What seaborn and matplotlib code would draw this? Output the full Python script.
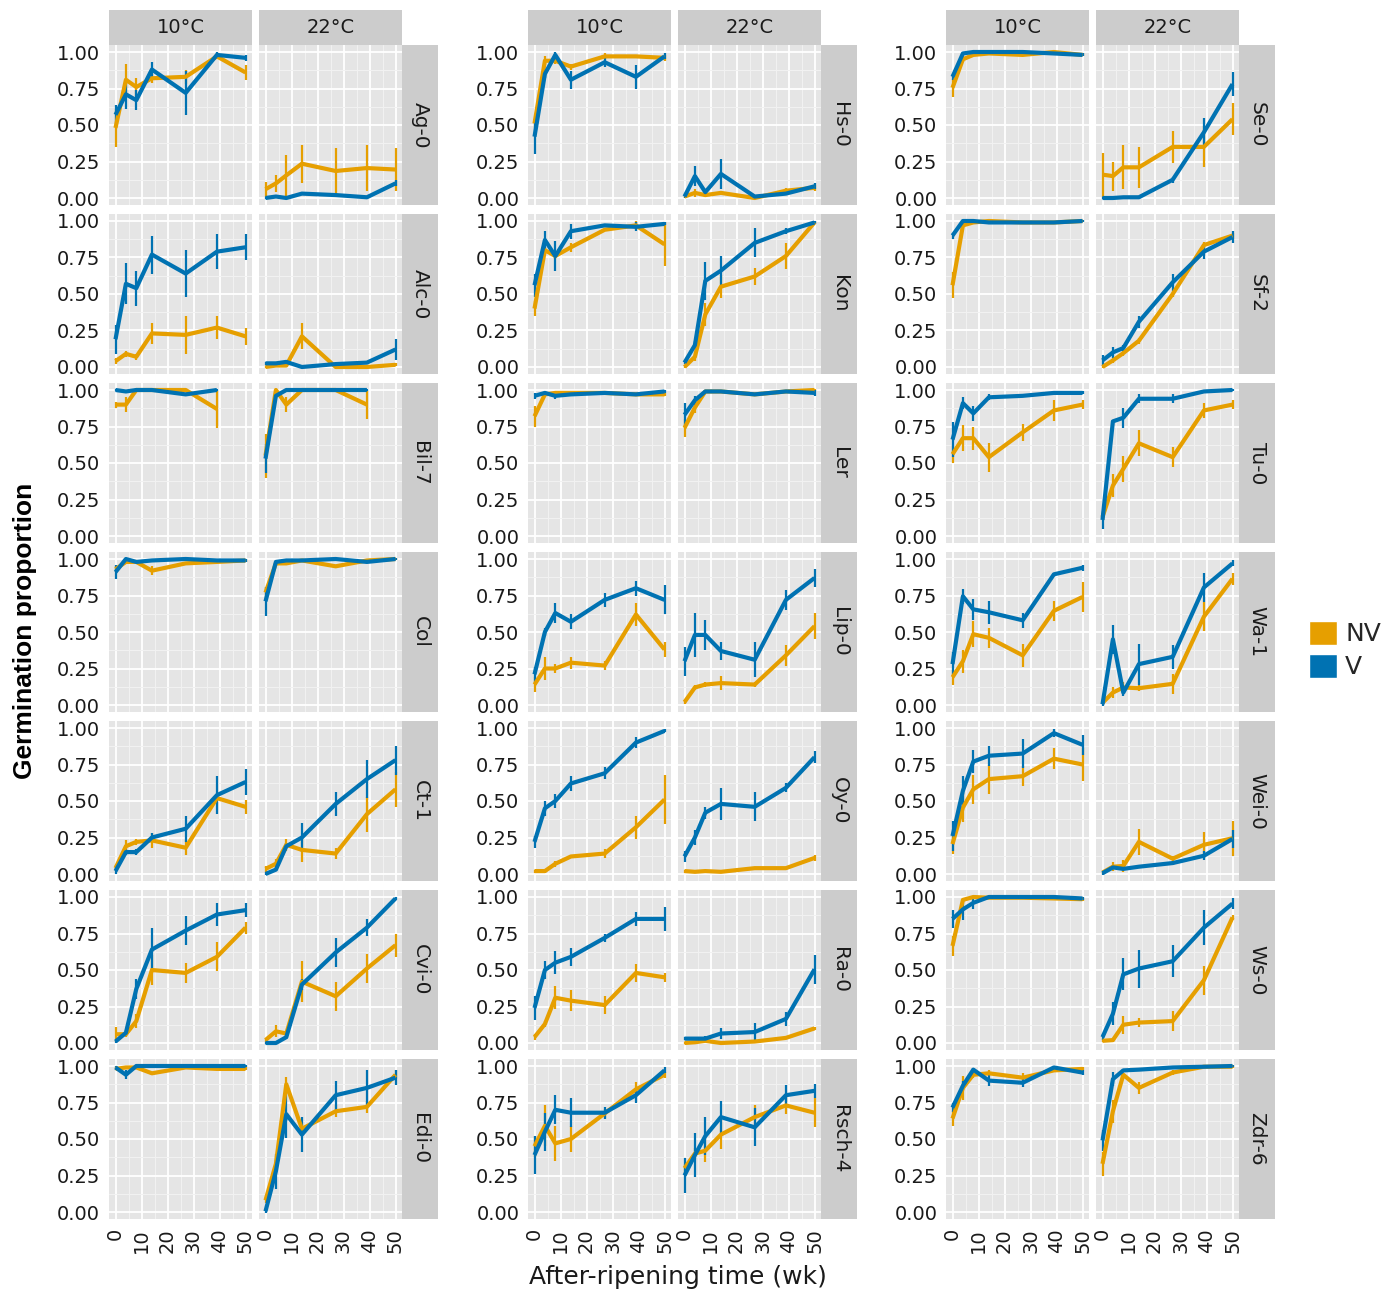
import numpy as np
import pandas as pd
import matplotlib
matplotlib.use("Agg")
import matplotlib.pyplot as plt
import seaborn as sns
from matplotlib.patches import Patch

# ---------------- data ----------------
TIME = [0, 4, 8, 14, 27, 39, 50]
TEMPS = ["10°C", "22°C"]
TREATMENTS = ["NV", "V"]
COLORS = {"NV": "#E69F00", "V": "#0072B2"}
NA = np.nan
S = 0.01  # tiny error bar

ag0_10_nv = [0.48, 0.81, 0.76, 0.82, 0.83, 0.97, 0.86]
ag0_10_nv_se = [0.13, 0.11, 0.06, 0.03, 0.05, 0.02, 0.05]
ag0_10_v = [0.57, 0.71, 0.67, 0.88, 0.72, 0.98, 0.96]
ag0_10_v_se = [0.07, 0.10, 0.07, 0.05, 0.15, 0.02, 0.02]
ag0_22_nv = [0.06, 0.10, 0.155, 0.235, 0.185, 0.205, 0.195]
ag0_22_nv_se = [0.05, 0.06, 0.14, 0.13, 0.16, 0.16, 0.15]
ag0_22_v = [0.0, 0.01, 0.0, 0.03, 0.02, 0.005, 0.10]
ag0_22_v_se = [S, S, S, S, S, S, 0.02]

alc0_10_nv = [0.04, 0.09, 0.07, 0.23, 0.22, 0.27, 0.21]
alc0_10_nv_se = [0.02, 0.02, 0.02, 0.07, 0.13, 0.08, 0.06]
alc0_10_v = [0.19, 0.57, 0.54, 0.77, 0.64, 0.79, 0.82]
alc0_10_v_se = [0.10, 0.14, 0.12, 0.13, 0.16, 0.12, 0.09]
alc0_22_nv = [0.0, 0.01, 0.01, 0.21, 0.0, 0.0, 0.015]
alc0_22_nv_se = [S, S, S, 0.09, S, S, S]
alc0_22_v = [0.025, 0.025, 0.035, 0.0, 0.02, 0.03, 0.12]
alc0_22_v_se = [S, S, S, S, S, S, 0.07]

bil7_10_nv = [0.90, 0.90, 1.0, 1.0, 1.0, 0.87, NA]
bil7_10_nv_se = [0.02, 0.05, S, S, S, 0.13, NA]
bil7_10_v = [1.0, 0.99, 1.0, 1.0, 0.97, 1.0, NA]
bil7_10_v_se = [S, S, S, S, S, S, NA]
bil7_22_nv = [0.55, 1.0, 0.90, 1.0, 1.0, 0.90, NA]
bil7_22_nv_se = [0.15, S, 0.05, S, S, 0.10, NA]
bil7_22_v = [0.53, 0.96, 1.0, 1.0, 1.0, 1.0, NA]
bil7_22_v_se = [0.10, S, S, S, S, S, NA]

col_10_nv = [0.93, 0.98, 0.98, 0.92, 0.97, 0.98, 0.99]
col_10_nv_se = [0.02, S, S, 0.03, S, S, S]
col_10_v = [0.91, 1.0, 0.98, 0.99, 1.0, 0.99, 0.99]
col_10_v_se = [0.05, S, S, S, S, S, S]
col_22_nv = [0.77, 0.97, 0.97, 0.99, 0.95, 0.99, 1.0]
col_22_nv_se = [0.04, S, S, S, S, S, S]
col_22_v = [0.71, 0.98, 0.99, 0.99, 1.0, 0.98, 1.0]
col_22_v_se = [0.10, S, S, S, S, S, S]

ct1_10_nv = [0.04, 0.19, 0.22, 0.23, 0.18, 0.52, 0.46]
ct1_10_nv_se = [0.02, 0.04, 0.02, 0.05, 0.05, 0.02, 0.05]
ct1_10_v = [0.02, 0.15, 0.15, 0.25, 0.31, 0.54, 0.63]
ct1_10_v_se = [0.02, 0.02, 0.02, 0.03, 0.09, 0.13, 0.09]
ct1_22_nv = [0.035, 0.07, 0.20, 0.165, 0.14, 0.41, 0.58]
ct1_22_nv_se = [0.02, 0.03, 0.04, 0.08, 0.04, 0.12, 0.12]
ct1_22_v = [0.0, 0.03, 0.19, 0.25, 0.48, 0.65, 0.78]
ct1_22_v_se = [S, S, 0.02, 0.10, 0.08, 0.13, 0.10]

cvi0_10_nv = [0.06, 0.06, 0.15, 0.50, 0.48, 0.59, 0.79]
cvi0_10_nv_se = [0.05, 0.02, 0.05, 0.10, 0.07, 0.10, 0.04]
cvi0_10_v = [0.01, 0.07, 0.37, 0.64, 0.77, 0.88, 0.91]
cvi0_10_v_se = [S, 0.02, 0.07, 0.15, 0.10, 0.08, 0.05]
cvi0_22_nv = [0.02, 0.08, 0.065, 0.42, 0.32, 0.51, 0.67]
cvi0_22_nv_se = [S, 0.04, 0.02, 0.14, 0.10, 0.10, 0.08]
cvi0_22_v = [0.0, 0.0, 0.04, 0.40, 0.62, 0.79, 0.99]
cvi0_22_v_se = [S, S, S, 0.04, 0.10, 0.06, S]

edi0_10_nv = [0.98, 0.99, 0.99, 0.95, 0.99, 0.98, 0.98]
edi0_10_nv_se = [S, S, S, S, S, S, S]
edi0_10_v = [0.99, 0.94, 1.0, 1.0, 1.0, 1.0, 1.0]
edi0_10_v_se = [S, 0.03, S, S, S, S, S]
edi0_22_nv = [0.08, 0.33, 0.875, 0.57, 0.69, 0.72, 0.94]
edi0_22_nv_se = [0.02, 0.03, 0.05, 0.03, 0.04, 0.04, 0.03]
edi0_22_v = [0.005, 0.28, 0.67, 0.53, 0.80, 0.85, 0.92]
edi0_22_v_se = [S, 0.12, 0.16, 0.12, 0.10, 0.12, 0.05]

hs0_10_nv = [0.51, 0.94, 0.94, 0.90, 0.97, 0.97, 0.96]
hs0_10_nv_se = [0.03, 0.03, 0.02, 0.02, 0.02, S, 0.02]
hs0_10_v = [0.42, 0.85, 0.98, 0.81, 0.93, 0.83, 0.97]
hs0_10_v_se = [0.12, 0.03, 0.02, 0.06, 0.03, 0.08, 0.02]
hs0_22_nv = [0.01, 0.035, 0.02, 0.035, 0.0, 0.05, 0.07]
hs0_22_nv_se = [S, 0.03, S, S, S, 0.02, 0.02]
hs0_22_v = [0.01, 0.15, 0.04, 0.165, 0.01, 0.03, 0.08]
hs0_22_v_se = [S, 0.07, 0.02, 0.10, S, S, 0.02]

kon_10_nv = [0.40, 0.80, 0.76, 0.82, 0.94, 0.97, 0.84]
kon_10_nv_se = [0.05, 0.02, 0.02, 0.03, S, 0.03, 0.15]
kon_10_v = [0.56, 0.87, 0.76, 0.93, 0.97, 0.96, 0.98]
kon_10_v_se = [0.08, 0.06, 0.10, 0.05, S, 0.03, S]
kon_22_nv = [0.0, 0.07, 0.36, 0.55, 0.62, 0.76, 0.99]
kon_22_nv_se = [S, 0.03, 0.08, 0.08, 0.06, 0.09, S]
kon_22_v = [0.03, 0.15, 0.59, 0.66, 0.85, 0.93, 0.99]
kon_22_v_se = [S, 0.03, 0.13, 0.10, 0.10, 0.02, S]

ler_10_nv = [0.82, 0.97, 0.98, 0.98, 0.98, 0.97, 0.97]
ler_10_nv_se = [0.07, S, S, S, S, S, S]
ler_10_v = [0.96, 0.98, 0.96, 0.97, 0.98, 0.97, 0.99]
ler_10_v_se = [0.02, S, 0.02, S, S, S, S]
ler_22_nv = [0.74, 0.88, 0.99, 0.99, 0.97, 0.99, 1.0]
ler_22_nv_se = [0.06, 0.04, S, S, S, S, S]
ler_22_v = [0.83, 0.93, 0.99, 0.99, 0.97, 0.99, 0.98]
ler_22_v_se = [0.08, 0.03, S, S, S, S, 0.02]

lip0_10_nv = [0.14, 0.25, 0.25, 0.29, 0.27, 0.62, 0.38]
lip0_10_nv_se = [0.05, 0.08, 0.03, 0.04, 0.03, 0.08, 0.05]
lip0_10_v = [0.21, 0.50, 0.63, 0.57, 0.72, 0.80, 0.72]
lip0_10_v_se = [0.05, 0.03, 0.07, 0.05, 0.05, 0.05, 0.10]
lip0_22_nv = [0.02, 0.12, 0.14, 0.15, 0.14, 0.34, 0.54]
lip0_22_nv_se = [S, 0.02, 0.02, 0.05, 0.02, 0.07, 0.09]
lip0_22_v = [0.30, 0.48, 0.48, 0.37, 0.31, 0.72, 0.87]
lip0_22_v_se = [0.10, 0.15, 0.10, 0.06, 0.12, 0.07, 0.06]

oy0_10_nv = [0.02, 0.02, 0.07, 0.12, 0.14, 0.32, 0.51]
oy0_10_nv_se = [S, S, 0.02, S, 0.03, 0.08, 0.17]
oy0_10_v = [0.22, 0.45, 0.50, 0.62, 0.69, 0.90, 0.98]
oy0_10_v_se = [0.04, 0.05, 0.05, 0.05, 0.04, 0.04, S]
oy0_22_nv = [0.02, 0.015, 0.02, 0.015, 0.04, 0.04, 0.11]
oy0_22_nv_se = [S, S, S, S, S, S, 0.02]
oy0_22_v = [0.12, 0.25, 0.42, 0.48, 0.46, 0.59, 0.80]
oy0_22_v_se = [0.04, 0.05, 0.04, 0.11, 0.10, 0.03, 0.04]

ra0_10_nv = [0.04, 0.13, 0.31, 0.29, 0.26, 0.48, 0.45]
ra0_10_nv_se = [0.02, 0.02, 0.08, 0.07, 0.06, 0.06, 0.03]
ra0_10_v = [0.24, 0.50, 0.55, 0.59, 0.72, 0.85, 0.85]
ra0_10_v_se = [0.08, 0.06, 0.08, 0.06, 0.03, 0.05, 0.08]
ra0_22_nv = [0.0, 0.005, 0.015, 0.0, 0.01, 0.035, 0.10]
ra0_22_nv_se = [S, S, S, S, S, S, S]
ra0_22_v = [0.03, 0.03, 0.03, 0.065, 0.075, 0.165, 0.505]
ra0_22_v_se = [S, S, 0.02, 0.04, 0.06, 0.05, 0.10]

rsch4_10_nv = [0.45, 0.59, 0.47, 0.50, 0.675, 0.84, 0.94]
rsch4_10_nv_se = [0.07, 0.14, 0.12, 0.09, 0.03, 0.05, 0.02]
rsch4_10_v = [0.39, 0.55, 0.70, 0.68, 0.68, 0.80, 0.97]
rsch4_10_v_se = [0.13, 0.13, 0.10, 0.10, 0.04, 0.05, 0.02]
rsch4_22_nv = [0.30, 0.40, 0.42, 0.53, 0.65, 0.73, 0.68]
rsch4_22_nv_se = [0.03, 0.04, 0.08, 0.10, 0.08, 0.06, 0.10]
rsch4_22_v = [0.25, 0.39, 0.52, 0.65, 0.58, 0.80, 0.83]
rsch4_22_v_se = [0.12, 0.15, 0.13, 0.11, 0.13, 0.07, 0.05]

se0_10_nv = [0.755, 0.95, 0.98, 0.99, 0.98, 1.0, 0.98]
se0_10_nv_se = [0.06, 0.02, S, S, S, S, S]
se0_10_v = [0.83, 0.99, 1.0, 1.0, 1.0, 0.99, 0.98]
se0_10_v_se = [0.02, S, S, S, S, S, S]
se0_22_nv = [0.16, 0.15, 0.21, 0.21, 0.35, 0.35, 0.54]
se0_22_nv_se = [0.15, 0.10, 0.15, 0.14, 0.11, 0.14, 0.11]
se0_22_v = [0.0, 0.0, 0.005, 0.005, 0.125, 0.45, 0.78]
se0_22_v_se = [S, S, S, S, 0.02, 0.10, 0.08]

sf2_10_nv = [0.56, 0.97, 0.99, 1.0, 0.99, 0.99, 1.0]
sf2_10_nv_se = [0.09, 0.02, S, S, S, S, S]
sf2_10_v = [0.90, 1.0, 1.0, 0.99, 0.99, 0.99, 1.0]
sf2_10_v_se = [0.02, S, S, S, S, S, S]
sf2_22_nv = [0.0, 0.045, 0.095, 0.18, 0.50, 0.835, 0.90]
sf2_22_nv_se = [S, 0.02, 0.02, 0.02, 0.02, 0.02, 0.02]
sf2_22_v = [0.045, 0.10, 0.13, 0.31, 0.58, 0.79, 0.89]
sf2_22_v_se = [0.04, 0.04, 0.02, 0.04, 0.06, 0.05, 0.04]

tu0_10_nv = [0.56, 0.67, 0.67, 0.54, 0.71, 0.86, 0.90]
tu0_10_nv_se = [0.06, 0.09, 0.08, 0.10, 0.06, 0.07, 0.03]
tu0_10_v = [0.66, 0.91, 0.84, 0.95, 0.96, 0.98, 0.98]
tu0_10_v_se = [0.12, 0.04, 0.05, 0.02, S, S, S]
tu0_22_nv = [0.13, 0.345, 0.46, 0.635, 0.54, 0.86, 0.90]
tu0_22_nv_se = [0.02, 0.08, 0.09, 0.09, 0.07, 0.05, 0.03]
tu0_22_v = [0.11, 0.785, 0.81, 0.94, 0.94, 0.99, 1.0]
tu0_22_v_se = [0.06, S, 0.07, 0.03, 0.03, S, S]

wa1_10_nv = [0.19, 0.30, 0.485, 0.46, 0.34, 0.645, 0.74]
wa1_10_nv_se = [0.05, 0.08, 0.09, 0.07, 0.08, 0.07, 0.10]
wa1_10_v = [0.28, 0.745, 0.655, 0.635, 0.58, 0.895, 0.94]
wa1_10_v_se = [0.08, 0.05, 0.07, 0.08, 0.05, S, 0.02]
wa1_22_nv = [0.015, 0.085, 0.12, 0.115, 0.145, 0.605, 0.865]
wa1_22_nv_se = [S, 0.04, 0.04, 0.02, 0.07, 0.10, 0.04]
wa1_22_v = [0.005, 0.45, 0.085, 0.28, 0.33, 0.805, 0.97]
wa1_22_v_se = [S, 0.10, 0.02, 0.14, 0.08, 0.10, 0.02]

wei0_10_nv = [0.205, 0.455, 0.58, 0.65, 0.67, 0.79, 0.75]
wei0_10_nv_se = [0.07, 0.10, 0.10, 0.10, 0.07, 0.07, 0.11]
wei0_10_v = [0.26, 0.57, 0.77, 0.81, 0.825, 0.965, 0.885]
wei0_10_v_se = [0.10, 0.10, 0.08, 0.07, 0.10, 0.03, 0.07]
wei0_22_nv = [0.01, 0.05, 0.055, 0.22, 0.105, 0.20, 0.245]
wei0_22_nv_se = [S, 0.03, 0.04, 0.09, 0.02, 0.09, 0.12]
wei0_22_v = [0.005, 0.045, 0.035, 0.05, 0.075, 0.125, 0.24]
wei0_22_v_se = [S, S, S, S, S, 0.03, 0.06]

ws0_10_nv = [0.665, 0.98, 1.0, 0.995, 0.995, 0.99, 0.985]
ws0_10_nv_se = [0.07, S, S, S, S, S, S]
ws0_10_v = [0.85, 0.915, 0.96, 1.0, 1.0, 1.0, 0.99]
ws0_10_v_se = [0.06, 0.07, 0.04, S, S, S, S]
ws0_22_nv = [0.015, 0.02, 0.125, 0.14, 0.15, 0.43, 0.86]
ws0_22_nv_se = [S, S, 0.06, 0.03, 0.07, 0.10, 0.02]
ws0_22_v = [0.04, 0.20, 0.47, 0.51, 0.56, 0.79, 0.955]
ws0_22_v_se = [0.02, 0.08, 0.11, 0.13, 0.11, 0.12, 0.04]

zdr6_10_nv = [0.64, 0.85, 0.94, 0.95, 0.92, 0.97, 0.98]
zdr6_10_nv_se = [0.05, 0.08, 0.02, 0.02, 0.03, S, S]
zdr6_10_v = [0.715, 0.865, 0.975, 0.90, 0.885, 0.99, 0.955]
zdr6_10_v_se = [0.03, 0.03, S, 0.04, 0.03, S, 0.02]
zdr6_22_nv = [0.33, 0.69, 0.94, 0.85, 0.955, 0.995, 0.995]
zdr6_22_nv_se = [0.08, 0.08, S, 0.04, 0.02, S, S]
zdr6_22_v = [0.49, 0.91, 0.97, 0.975, 0.99, 0.995, 1.0]
zdr6_22_v_se = [0.07, 0.05, S, S, S, S, S]

ACCESSIONS = ["Ag-0", "Alc-0", "Bil-7", "Col", "Ct-1", "Cvi-0", "Edi-0",
              "Hs-0", "Kon", "Ler", "Lip-0", "Oy-0", "Ra-0", "Rsch-4",
              "Se-0", "Sf-2", "Tu-0", "Wa-1", "Wei-0", "Ws-0", "Zdr-6"]
PREFIX = ["ag0", "alc0", "bil7", "col", "ct1", "cvi0", "edi0",
          "hs0", "kon", "ler", "lip0", "oy0", "ra0", "rsch4",
          "se0", "sf2", "tu0", "wa1", "wei0", "ws0", "zdr6"]

# build long table
g = globals()
rows = []
for acc, p in zip(ACCESSIONS, PREFIX):
    for temp, tk in zip(TEMPS, ["10", "22"]):
        for trt in TREATMENTS:
            m = g[f"{p}_{tk}_{trt.lower()}"]
            e = g[f"{p}_{tk}_{trt.lower()}_se"]
            for t, mv, ev in zip(TIME, m, e):
                rows.append(dict(accession=acc, temp=temp, treatment=trt,
                                 time=t, prop=mv, se=ev))
df = pd.DataFrame(rows).dropna()

# ---------------- figure ----------------
sns.set_style("white")
plt.rcParams["font.family"] = ["DejaVu Sans"]

W, H = 1399, 1290
fig = plt.figure(figsize=(W / 100, H / 100), dpi=100)


def rect(x, y, w, h):
    return [x / W, 1 - (y + h) / H, w / W, h / H]


GROUP_LEFT = [109, 528, 946]
PW, PH = 143, 160.6
PSTEP = 150
ROW_TOP0, ROW_STEP = 44.7, 169
STRIP_W = 36
HEAD_TOP, HEAD_H = 9.5, 35.2
TXT = "#1a1a1a"
FS = 14

for gi in range(3):
    for r in range(7):
        acc = ACCESSIONS[gi * 7 + r]
        top = ROW_TOP0 + r * ROW_STEP
        for j, temp in enumerate(TEMPS):
            left = GROUP_LEFT[gi] + j * PSTEP
            ax = fig.add_axes(rect(left, top, PW, PH))
            ax.set_facecolor("#E5E5E5")
            for sp in ax.spines.values():
                sp.set_visible(False)
            ax.set_xlim(-2.5, 52.5)
            ax.set_ylim(-0.05, 1.05)
            ax.set_xticks([0, 10, 20, 30, 40, 50])
            ax.set_xticks([5, 15, 25, 35, 45], minor=True)
            ax.set_yticks([0, 0.25, 0.5, 0.75, 1.0])
            ax.set_yticks([0.125, 0.375, 0.625, 0.875], minor=True)
            ax.grid(which="major", color="white", lw=1.3)
            ax.grid(which="minor", color="#F2F2F2", lw=0.7)
            ax.set_axisbelow(True)
            ax.tick_params(which="minor", length=0)
            ax.tick_params(which="major", length=4.3, width=1.0,
                           color="#555555", labelsize=FS, labelcolor=TXT,
                           pad=2)
            if j == 0:
                ax.set_yticklabels(["0.00", "0.25", "0.50", "0.75", "1.00"])
            else:
                ax.tick_params(axis="y", left=False, labelleft=False)
            if r == 6:
                ax.set_xticklabels(["0", "10", "20", "30", "40", "50"],
                                   rotation=90)
            else:
                ax.tick_params(axis="x", bottom=False, labelbottom=False)

            sub = df[(df.accession == acc) & (df.temp == temp)]
            for trt in TREATMENTS:
                s = sub[sub.treatment == trt]
                ax.vlines(s["time"], s["prop"] - s["se"], s["prop"] + s["se"],
                          color=COLORS[trt], lw=1.6, zorder=2)
            sns.lineplot(data=sub, x="time", y="prop", hue="treatment",
                         hue_order=TREATMENTS, palette=COLORS, ax=ax,
                         legend=False, errorbar=None, estimator=None,
                         linewidth=3.0, solid_joinstyle="round",
                         solid_capstyle="butt", zorder=3)
            ax.set_xlabel("")
            ax.set_ylabel("")

            if r == 0:
                hx = fig.add_axes(rect(left, HEAD_TOP, PW, HEAD_H))
                hx.set_facecolor("#CCCCCC")
                hx.set_xticks([]); hx.set_yticks([])
                for sp in hx.spines.values():
                    sp.set_visible(False)
                hx.text(0.5, 0.48, temp, ha="center", va="center",
                        fontsize=FS, color=TXT, transform=hx.transAxes)

        sx = fig.add_axes(rect(GROUP_LEFT[gi] + PSTEP + PW, top, STRIP_W, PH))
        sx.set_facecolor("#CCCCCC")
        sx.set_xticks([]); sx.set_yticks([])
        for sp in sx.spines.values():
            sp.set_visible(False)
        sx.text(0.5, 0.5, acc, ha="center", va="center", rotation=-90,
                fontsize=FS + 0.5, color=TXT, transform=sx.transAxes)

fig.text(25 / W, 1 - 631 / H, "Germination proportion", rotation=90,
         ha="center", va="center", fontsize=19, fontweight="bold",
         family=["Liberation Sans", "DejaVu Sans"], color="black")
fig.text(678 / W, 1 - 1277 / H, "After-ripening time (wk)",
         ha="center", va="center", fontsize=18, color=TXT)

handles = [Patch(facecolor=COLORS[t], edgecolor="white", label=t)
           for t in TREATMENTS]
fig.legend(handles=handles, loc="center left",
           bbox_to_anchor=(1309 / W, 1 - 650 / H), frameon=False,
           fontsize=18, handlelength=1.1, handleheight=1.1,
           labelspacing=0.3, handletextpad=0.35, borderpad=0,
           borderaxespad=0)

fig.savefig("out.png", dpi=100)
